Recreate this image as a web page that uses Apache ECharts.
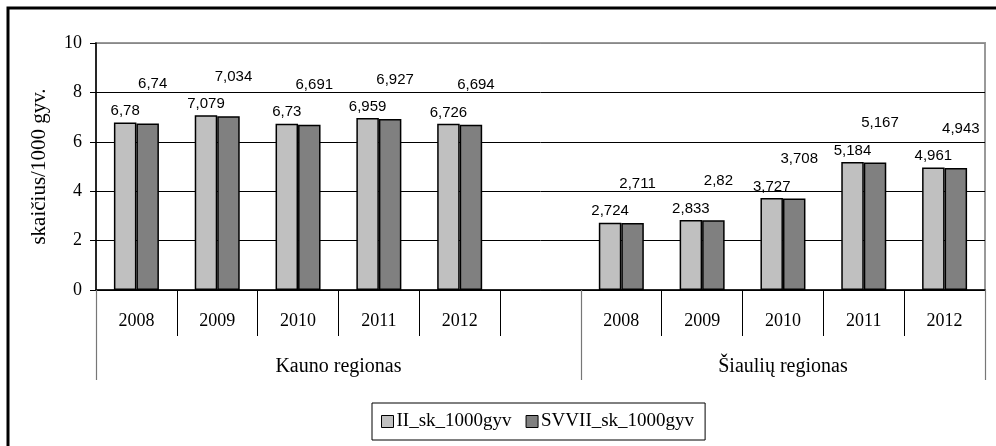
<!DOCTYPE html>
<html>
<head>
<meta charset="utf-8">
<script src="https://cdn.jsdelivr.net/npm/echarts@6/dist/echarts.min.js"></script>
<style>
html,body{margin:0;padding:0;background:#fff;}
#c{width:996px;height:446px;}
</style>
</head>
<body>
<div id="c"></div>
<script>
var categories = ['2008','2009','2010','2011','2012','','2008','2009','2010','2011','2012'];
var groups = ['Kauno regionas', 'Šiaulių regionas'];
var groupSpans = [6, 5]; // number of categories in each group (Kauno includes spacer)
var seriesNames = ['II_sk_1000gyv', 'SVVII_sk_1000gyv'];
var seriesII = [6.78, 7.079, 6.73, 6.959, 6.726, null, 2.724, 2.833, 3.727, 5.184, 4.961];
var seriesSVVII = [6.74, 7.034, 6.691, 6.927, 6.694, null, 2.711, 2.82, 3.708, 5.167, 4.943];
var yTicks = [0, 2, 4, 6, 8, 10];

var groupBounds = [0];
groupSpans.forEach(function (s) { groupBounds.push(groupBounds[groupBounds.length - 1] + s); });
var groupCenters = groupSpans.map(function (s, i) { return groupBounds[i] + s / 2; });

function fmt(p) { return p.value == null ? '' : String(p.value).replace('.', ','); }

var chart = echarts.init(document.getElementById('c'));
chart.setOption({
  backgroundColor: '#fff',
  animation: false,
  graphic: [{
    type: 'rect', shape: { x: 8, y: 8, width: 1010, height: 500 },
    style: { fill: 'none', stroke: '#000', lineWidth: 3 }, z: 100
  }],
  grid: { left: 96, right: 11, top: 43, bottom: 156, show: true, borderColor: '#999', borderWidth: 2, backgroundColor: 'transparent' },
  legend: {
    left: 372, top: 403, orient: 'horizontal',
    data: seriesNames,
    itemWidth: 12, itemHeight: 12, itemGap: 14,
    padding: [9, 11, 9, 9],
    borderColor: '#000', borderWidth: 1,
    icon: 'rect',
    textStyle: { fontFamily: 'Liberation Serif', fontSize: 19, color: '#000', padding: [0, 0, 0, -2] },
    itemStyle: { borderColor: '#000', borderWidth: 1 }
  },
  xAxis: [{
    type: 'category', data: categories, gridIndex: 0, position: 'bottom',
    axisLine: { lineStyle: { color: '#000', width: 1.5 } },
    axisTick: { show: true, interval: 0, length: 46, lineStyle: { color: '#000', width: 1 } },
    axisLabel: { interval: 0, margin: 22, fontFamily: 'Liberation Serif', fontSize: 18, color: '#000' },
    splitLine: { show: false }
  }, {
    type: 'value', gridIndex: 0, position: 'bottom', min: 0, max: categories.length,
    axisLine: { show: false },
    axisTick: { show: true, customValues: groupBounds, length: 90, lineStyle: { color: '#777', width: 1.2 } },
    axisLabel: {
      customValues: groupCenters, margin: 67, fontFamily: 'Liberation Serif', fontSize: 20, color: '#000',
      formatter: function (v) { var i = groupCenters.indexOf(v); return i >= 0 ? groups[i] : ''; }
    },
    splitLine: { show: false }
  }],
  yAxis: {
    type: 'value', min: yTicks[0], max: yTicks[yTicks.length - 1], interval: yTicks[1] - yTicks[0],
    name: 'skaičius/1000 gyv.', nameLocation: 'middle', nameGap: 46, nameRotate: 90,
    nameTextStyle: { fontFamily: 'Liberation Serif', fontSize: 21, color: '#000' },
    axisLine: { show: true, lineStyle: { color: '#000', width: 1.5 } },
    axisTick: { show: true, length: 6, lineStyle: { color: '#000' } },
    axisLabel: { margin: 14, fontFamily: 'Liberation Serif', fontSize: 18, color: '#000' },
    splitLine: { show: true, lineStyle: { color: ['#000', '#000', '#000', '#000', '#000', '#888'], width: 1 } }
  },
  series: [{
    name: seriesNames[0], type: 'bar', data: seriesII, barWidth: 22.5, barGap: '0%',
    itemStyle: { color: '#c0c0c0', borderColor: '#000', borderWidth: 1.5 },
    label: { show: true, position: 'top', distance: 4, formatter: fmt, fontFamily: 'Liberation Sans', fontSize: 15, color: '#000' }
  }, {
    name: seriesNames[1], type: 'bar', data: seriesSVVII, barWidth: 22.5,
    itemStyle: { color: '#808080', borderColor: '#000', borderWidth: 1.5 },
    label: { show: true, position: 'top', distance: 4, offset: [5, -28], formatter: fmt, fontFamily: 'Liberation Sans', fontSize: 15, color: '#000' }
  }]
});
</script>
</body>
</html>
